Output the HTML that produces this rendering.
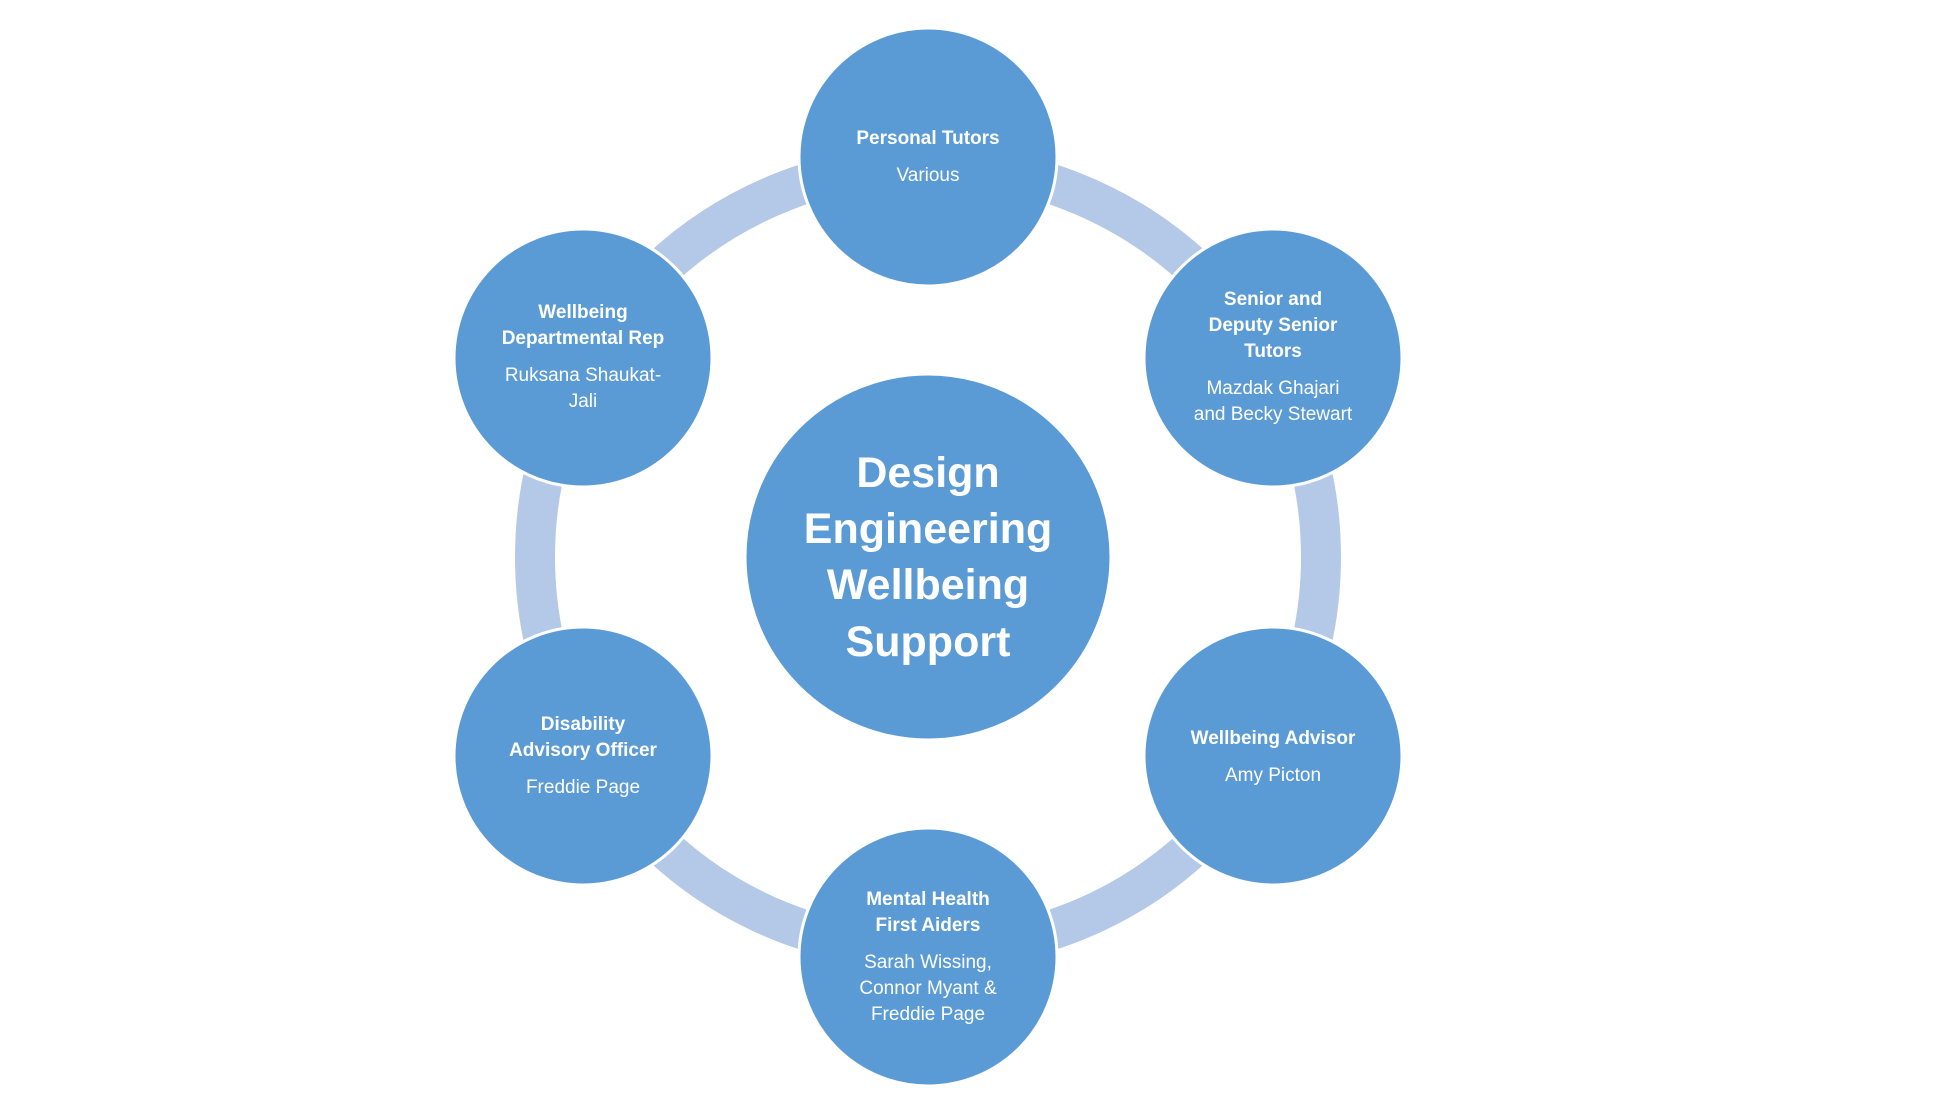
<!DOCTYPE html>
<html><head><meta charset="utf-8"><style>
html,body{margin:0;padding:0;background:#fff;}
svg{display:block}
text{font-family:"Liberation Sans",sans-serif;fill:#fff;text-anchor:middle}
.b{font-weight:bold;font-size:19px}
.n{font-size:19px}
.t{font-weight:bold;font-size:43px}
</style></head><body>
<svg width="1934" height="1100" viewBox="0 0 1934 1100">
<circle cx="928" cy="557" r="393" fill="none" stroke="#B4C9E8" stroke-width="40"/>
<g fill="#5B9BD5" stroke="#fff" stroke-width="3">
<circle cx="928" cy="557" r="183"/>
<circle cx="928" cy="157" r="129"/>
<circle cx="1273" cy="358" r="129"/>
<circle cx="1273" cy="756" r="129"/>
<circle cx="928" cy="957" r="129"/>
<circle cx="583" cy="756" r="129"/>
<circle cx="583" cy="358" r="129"/>
</g>
<text class="t" x="928" y="487">Design</text>
<text class="t" x="928" y="543">Engineering</text>
<text class="t" x="928" y="599">Wellbeing</text>
<text class="t" x="928" y="656">Support</text>

<text class="b" x="928" y="144">Personal Tutors</text>
<text class="n" x="928" y="181">Various</text>

<text class="b" x="1273" y="305">Senior and</text>
<text class="b" x="1273" y="331">Deputy Senior</text>
<text class="b" x="1273" y="357">Tutors</text>
<text class="n" x="1273" y="394">Mazdak Ghajari</text>
<text class="n" x="1273" y="420">and Becky Stewart</text>

<text class="b" x="1273" y="744">Wellbeing Advisor</text>
<text class="n" x="1273" y="781">Amy Picton</text>

<text class="b" x="928" y="905">Mental Health</text>
<text class="b" x="928" y="931">First Aiders</text>
<text class="n" x="928" y="968">Sarah Wissing,</text>
<text class="n" x="928" y="994">Connor Myant &amp;</text>
<text class="n" x="928" y="1020">Freddie Page</text>

<text class="b" x="583" y="730">Disability</text>
<text class="b" x="583" y="756">Advisory Officer</text>
<text class="n" x="583" y="793">Freddie Page</text>

<text class="b" x="583" y="318">Wellbeing</text>
<text class="b" x="583" y="344">Departmental Rep</text>
<text class="n" x="583" y="381">Ruksana Shaukat-</text>
<text class="n" x="583" y="407">Jali</text>
</svg>
</body></html>
